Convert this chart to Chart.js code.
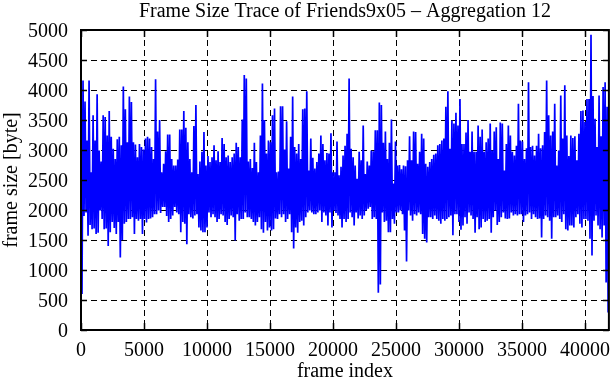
<!DOCTYPE html>
<html>
<head>
<meta charset="utf-8">
<script src="https://cdn.jsdelivr.net/npm/chart.js@4/dist/chart.umd.min.js"></script>
<style>
  html, body { margin: 0; padding: 0; background: #fff; }
  #wrap { width: 611px; height: 380px; }
</style>
</head>
<body>
<div id="wrap"><canvas id="trace" width="611" height="380"></canvas></div>
<script>
// ── Data ─────────────────────────────────────────────────────────────────────
// Each pair of samples is 160 frames apart: the upper and lower edge of the trace.
const frameStep = 160;
const xMax = 41900;
const yTicks = [0, 500, 1000, 1500, 2000, 2500, 3000, 3500, 4000, 4500, 5000];
const xTicks = [0, 5000, 10000, 15000, 20000, 25000, 30000, 35000, 40000];

// frames 0 - 7200
const peaksA = [4190, 4160, 3810, 3160, 4160, 2630, 3580, 3160, 3930, 2990,
  2810, 3580, 3550, 3240, 3650, 3220, 3020, 2850, 3180, 3220,
  3080, 4060, 3680, 3130, 3890, 3800, 3130, 3090, 2880, 3100,
  3050, 3010, 3190, 3220, 3190, 3050, 2850, 4180, 3310, 3500,
  2630, 2770, 2980, 3260, 3260];
const troughsA = [600, 1900, 1960, 1570, 1750, 1680, 1690, 1600, 1620, 1990,
  1850, 1680, 1690, 1400, 1630, 1800, 1700, 1600, 1800, 1210,
  1500, 1770, 1800, 1850, 1850, 1880, 1600, 1850, 1820, 1850,
  1600, 1850, 1790, 1850, 1860, 1880, 1930, 1930, 1990, 1950,
  2050, 2050, 1900, 1800, 1850];

// frames 7200 - 14700
const peaksB = [2850, 2740, 2740, 2840, 3340, 3340, 3650, 3370, 3130, 2850,
  2630, 3400, 3750, 2600, 2810, 2970, 3300, 2740, 2900, 2800,
  2880, 3080, 2830, 2980, 2800, 3200, 3100, 2880, 2910, 2800,
  2880, 2940, 3120, 3050, 2880, 3510, 4250, 4190, 2810, 2850,
  2700, 3120, 2800, 2630, 3240, 4110, 3500];
const troughsB = [1910, 2050, 1960, 1930, 1630, 1800, 1770, 1430, 1930, 1880,
  1860, 1910, 1930, 1710, 1660, 1630, 1630, 1710, 1960, 1880,
  1930, 1880, 1800, 1850, 1930, 1910, 1800, 1750, 1850, 1910,
  1880, 1490, 1930, 1820, 1850, 1850, 1960, 1880, 1880, 1850,
  1800, 1740, 1800, 1880, 1680, 1620, 1800];

// frames 14700 - 22200
const peaksC = [2940, 3160, 3130, 3580, 3690, 2630, 2640, 3730, 3730, 3010,
  3480, 2690, 3220, 3890, 3050, 2940, 3100, 2850, 3680, 3690,
  3980, 2660, 3190, 2870, 2690, 2800, 2940, 3240, 3100, 2830,
  2950, 2940, 3280, 2630, 2630, 3140, 2580, 2720, 2910, 3070,
  3270, 4190, 3020, 2880, 2740, 2520, 2970];
const troughsC = [1660, 1710, 1660, 1680, 1860, 1850, 1930, 1880, 1930, 1800,
  1850, 1930, 1630, 1360, 1710, 1620, 1800, 1820, 1740, 1880,
  1960, 1990, 1960, 1930, 1930, 1960, 1990, 1800, 1960, 1910,
  1740, 1960, 1710, 1990, 1950, 1910, 1850, 1710, 1850, 1800,
  1850, 1960, 1880, 1740, 1960, 1860, 1910];

// frames 22200 - 29700
const peaksD = [2830, 3410, 2600, 2810, 2740, 2990, 2980, 3330, 3330, 3790,
  3750, 3120, 3310, 2850, 3120, 3510, 2440, 3140, 2740, 2750,
  2680, 2740, 2730, 2830, 3230, 2830, 3310, 3300, 2770, 2970,
  3270, 3190, 2770, 2720, 2800, 2850, 2920, 2940, 3080, 3100,
  3160, 3190, 3720, 3980, 3020, 3490, 3440];
const troughsD = [1850, 1910, 1990, 2020, 2050, 1850, 1880, 1850, 620, 760,
  1960, 1800, 1820, 1630, 1630, 1850, 1770, 1960, 1960, 1990,
  1930, 1660, 1140, 1990, 1910, 1820, 1930, 1910, 1960, 1930,
  1600, 1520, 1460, 1880, 1880, 1850, 1910, 1850, 1820, 1770,
  1850, 1820, 1850, 1880, 1910, 1580, 1930];

// frames 29700 - 37200
const peaksE = [3620, 3410, 3850, 3100, 3100, 3290, 3500, 2970, 3310, 2970,
  2970, 3410, 3220, 3340, 2970, 3130, 3190, 3440, 2990, 3310,
  3380, 2850, 3460, 3440, 2660, 3100, 3410, 3240, 2970, 2910,
  3070, 3770, 3160, 3140, 2850, 3030, 4130, 3050, 3070, 2910,
  3070, 3270, 3030, 3080, 3300, 4160, 3580];
const troughsE = [1930, 1800, 1670, 1740, 1880, 1770, 1960, 1910, 1850, 1620,
  1880, 1680, 1710, 1850, 1800, 1820, 1850, 1620, 1880, 1990,
  1750, 1800, 1880, 1960, 1860, 1850, 1860, 1960, 1910, 1930,
  1910, 1930, 1930, 1800, 1910, 1930, 1960, 1850, 1930, 1880,
  1850, 1860, 1540, 1850, 1910, 1880, 1820];

// frames 37200 - end
const peaksF = [3240, 3310, 3770, 2740, 2990, 3910, 3190, 4080, 3240, 2900,
  3240, 3200, 3230, 2830, 3270, 3650, 3660, 3470, 3850, 3850,
  4920, 3900, 3520, 3050, 3910, 3230, 4050, 4130, 3720];
const troughsF = [1520, 1880, 1880, 1910, 1850, 1800, 1930, 1680, 1660, 1740,
  1740, 1710, 1880, 1930, 1770, 1710, 1850, 1850, 1820, 1520,
  1240, 1820, 1910, 1740, 1680, 1540, 1740, 790, 290];

const peaks = [...peaksA, ...peaksB, ...peaksC, ...peaksD, ...peaksE, ...peaksF];
const troughs = [...troughsA, ...troughsB, ...troughsC, ...troughsD, ...troughsE, ...troughsF];

const points = [];
peaks.forEach((p, k) => {
  points.push({ x: k * frameStep, y: p });
  points.push({ x: k * frameStep + frameStep / 2, y: troughs[k] });
});

// ── Gnuplot-ish frame: dashed grid, inward ticks, titles ─────────────────────
const FONT = "20px 'Liberation Serif', 'Times New Roman', serif";

const framePlugin = {
  id: "frame",
  beforeDatasetsDraw(chart) {
    const { ctx, chartArea: a, scales: { x, y } } = chart;
    ctx.save();
    ctx.strokeStyle = "#000";
    ctx.lineWidth = 1;
    ctx.setLineDash([6, 4]);
    for (const v of yTicks) {
      if (v === 0 || v === 5000) continue;
      const py = Math.round(y.getPixelForValue(v)) + 0.5;
      ctx.beginPath(); ctx.moveTo(a.left, py); ctx.lineTo(a.right, py); ctx.stroke();
    }
    for (const v of xTicks) {
      if (v === 0) continue;
      const px = Math.round(x.getPixelForValue(v)) + 0.5;
      ctx.beginPath(); ctx.moveTo(px, a.top); ctx.lineTo(px, a.bottom); ctx.stroke();
    }
    ctx.restore();
  },
  afterDatasetsDraw(chart) {
    const { ctx, chartArea: a, scales: { x, y } } = chart;
    ctx.save();
    ctx.strokeStyle = "#000";
    ctx.setLineDash([]);
    ctx.lineWidth = 1.5;
    for (const v of yTicks) {
      const py = Math.round(y.getPixelForValue(v)) + 0.5;
      ctx.beginPath();
      ctx.moveTo(a.left, py); ctx.lineTo(a.left + 6, py);
      ctx.moveTo(a.right, py); ctx.lineTo(a.right - 6, py);
      ctx.stroke();
    }
    for (const v of xTicks) {
      const px = Math.round(x.getPixelForValue(v)) + 0.5;
      ctx.beginPath();
      ctx.moveTo(px, a.bottom); ctx.lineTo(px, a.bottom - 7);
      ctx.moveTo(px, a.top); ctx.lineTo(px, a.top + 7);
      ctx.stroke();
    }
    ctx.lineWidth = 2;
    ctx.strokeRect(a.left, a.top, a.right - a.left, a.bottom - a.top);
    ctx.restore();
  },
  afterDraw(chart) {
    const { ctx, chartArea: a } = chart;
    const cx = (a.left + a.right) / 2;
    ctx.save();
    ctx.fillStyle = "#000";
    ctx.font = FONT;
    ctx.textAlign = "center";
    ctx.textBaseline = "middle";
    ctx.fillText("Frame Size Trace of Friends9x05 \u2013 Aggregation 12", cx, 12);
    ctx.fillText("frame index", cx, 372);
    ctx.translate(12, (a.top + a.bottom) / 2);
    ctx.rotate(-Math.PI / 2);
    ctx.fillText("frame size [byte]", 0, 0);
    ctx.restore();
  }
};

const tickFont = { family: "'Liberation Serif', 'Times New Roman', serif", size: 20 };

new Chart(document.getElementById("trace"), {
  type: "line",
  data: {
    datasets: [{
      data: points,
      borderColor: "#0000ff",
      borderWidth: 1.7,
      pointRadius: 0,
      tension: 0,
      fill: false
    }]
  },
  options: {
    responsive: false,
    animation: false,
    events: [],
    layout: { padding: { top: 30, right: 1, bottom: 0, left: 0 } },
    plugins: { legend: { display: false }, tooltip: { enabled: false }, title: { display: false } },
    scales: {
      x: {
        type: "linear",
        min: 0,
        max: xMax,
        grid: { display: false },
        border: { display: false },
        afterFit: (s) => { s.height = 50; },
        afterBuildTicks: (s) => { s.ticks = xTicks.map((v) => ({ value: v })); },
        ticks: { font: tickFont, color: "#000", padding: 1, maxRotation: 0, callback: (v) => String(v) }
      },
      y: {
        min: 0,
        max: 5000,
        grid: { display: false },
        border: { display: false },
        afterFit: (s) => { s.width = 81; },
        afterBuildTicks: (s) => { s.ticks = yTicks.map((v) => ({ value: v })); },
        ticks: { font: tickFont, color: "#000", padding: 5, labelOffset: 2, callback: (v) => String(v) }
      }
    }
  },
  plugins: [framePlugin]
});
</script>
</body>
</html>
